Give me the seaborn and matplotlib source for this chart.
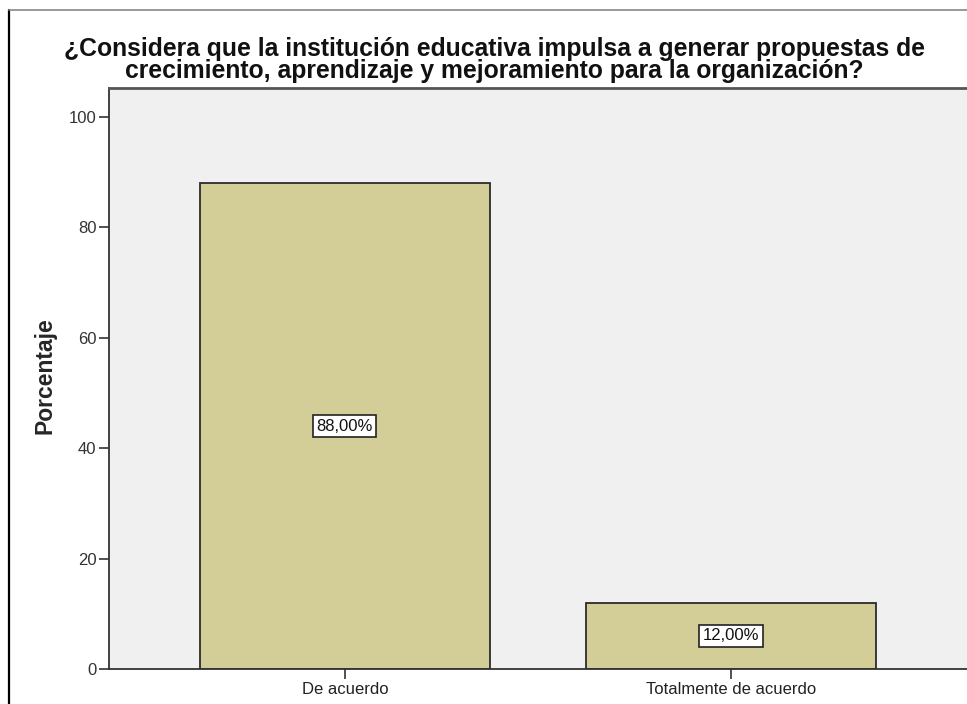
import matplotlib
matplotlib.use("Agg")
import matplotlib.pyplot as plt
from matplotlib.lines import Line2D
import seaborn as sns
import pandas as pd

categories = ["De acuerdo", "Totalmente de acuerdo"]
percentages = [88.0, 12.0]
value_labels = ["88,00%", "12,00%"]
y_ticks = [0, 20, 40, 60, 80, 100]

title = ("¿Considera que la institución educativa impulsa a generar propuestas de\n"
         "crecimiento, aprendizaje y mejoramiento para la organización?")

sns.set_style("white")
plt.rcParams["font.family"] = ["Liberation Sans", "DejaVu Sans"]

df = pd.DataFrame({"Respuesta": categories, "Porcentaje": percentages})

fig = plt.figure(figsize=(9.67, 7.04), dpi=100)
ax = fig.add_axes([109 / 967, 1 - 669 / 704, (967 - 109) / 967, (669 - 88) / 704])
ax.set_facecolor("#f0f0f0")

sns.barplot(data=df, x="Respuesta", y="Porcentaje", ax=ax, color="#d3ce98",
            saturation=1, width=0.75, edgecolor="#2b2b2b", linewidth=1.3)

ax.set_xlim(-0.611, 1.611)
ax.set_ylim(0, 105.25)
ax.set_yticks(y_ticks)
ax.set_yticklabels([str(t) for t in y_ticks], fontsize=12, color="#333333")
ax.set_xticks(range(len(categories)))
ax.set_xticklabels(categories, fontsize=12, color="#222222")
ax.tick_params(axis="both", direction="out", length=7, width=1.2, color="#333333",
               left=True, bottom=True, pad=2)
ax.set_xlabel("")
ax.set_ylabel("Porcentaje", fontsize=16.5, fontweight="bold")
ax.yaxis.set_label_coords((57 - 109) / 858, (669 - 376) / 581)

for side in ["left", "bottom", "top"]:
    ax.spines[side].set_visible(True)
    ax.spines[side].set_color("#333333")
    ax.spines[side].set_linewidth(1.3)
ax.spines["top"].set_linewidth(2.0)
ax.spines["top"].set_color("#555555")
ax.spines["right"].set_visible(False)

for i, (v, lab) in enumerate(zip(percentages, value_labels)):
    ax.text(i, v / 2, lab, ha="center", va="center", fontsize=12, color="#111111",
            bbox=dict(boxstyle="square,pad=0.2", facecolor="white",
                      edgecolor="#222222", linewidth=1.2))

fig.text(494 / 967, 1 - 60 / 704, title, ha="center", va="center",
         fontsize=17.8, fontweight="bold", color="#111111", linespacing=0.93)

# outer frame lines
fig.add_artist(Line2D([9 / 967, 9 / 967], [0, 1 - 10 / 704], color="black",
                      linewidth=1.6, transform=fig.transFigure))
fig.add_artist(Line2D([9 / 967, 1], [1 - 10 / 704, 1 - 10 / 704], color="#888888",
                      linewidth=1.2, transform=fig.transFigure))

fig.savefig("out.png", dpi=100)
